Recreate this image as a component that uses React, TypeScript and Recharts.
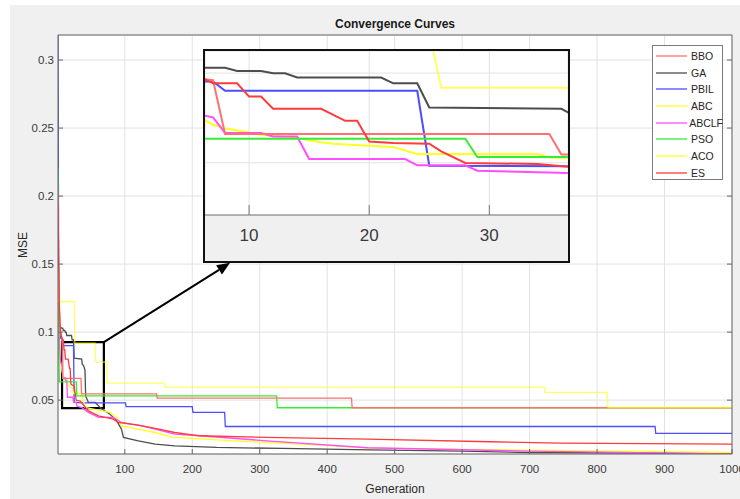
import React from 'react';
import { LineChart, Line, XAxis, YAxis, CartesianGrid, ReferenceArea, ReferenceLine } from 'recharts';

type Pt = [number, number];

// ---- data: [generation, MSE] breakpoints ----
const BBO: Pt[] = [[1,0.205],[2,0.15],[3,0.118],[4,0.104],[5,0.099],[6,0.0968],[7,0.096],[8,0.066],[35,0.066],[36,0.0546],[147,0.0546],[148,0.0515],[436,0.0515],[437,0.0444],[1000,0.0444]];
const GA: Pt[] = [[1,0.112],[3,0.105],[6,0.103],[8,0.103],[9,0.1012],[11,0.1012],[12,0.0999],[13,0.0999],[14,0.0975],[21,0.0975],[22,0.0943],[24,0.0943],[25,0.0808],[36,0.0801],[37,0.0764],[39,0.0752],[41,0.072],[42,0.053],[46,0.0483],[56,0.0483],[66,0.0434],[78,0.0397],[88,0.0348],[95,0.0287],[98,0.0226],[120,0.0201],[145,0.0176],[174,0.0164],[236,0.0152],[334,0.0145],[463,0.0135],[600,0.0125],[700,0.0115],[1000,0.0108]];
const PBIL: Pt[] = [[1,0.3184],[2,0.14],[3,0.108],[4,0.099],[5,0.0955],[7,0.0953],[8,0.0901],[24,0.0901],[25,0.0484],[37,0.048],[101,0.048],[102,0.0452],[200,0.0452],[201,0.041],[248,0.041],[249,0.0306],[886,0.0306],[887,0.0255],[1000,0.0255]];
const ABC: Pt[] = [[1,0.15],[2,0.11],[3,0.09],[4,0.08],[5,0.077],[6,0.0748],[7,0.0712],[8,0.0693],[11,0.0656],[14,0.0638],[16,0.0615],[17,0.0606],[20,0.0595],[22,0.0588],[24,0.0549],[34,0.0549],[35,0.053],[37,0.0527],[41,0.0446],[66,0.0421],[78,0.041],[88,0.0373],[95,0.0311],[120,0.0287],[145,0.0262],[170,0.0228],[261,0.0201],[408,0.0164],[463,0.0147],[1000,0.0115]];
const ABCLF: Pt[] = [[1,0.18],[2,0.125],[3,0.095],[4,0.083],[5,0.078],[7,0.0753],[8,0.0666],[11,0.0666],[12,0.0647],[14,0.0647],[15,0.0521],[23,0.0521],[24,0.0486],[28,0.0486],[29,0.0456],[37,0.0443],[46,0.041],[61,0.0373],[83,0.0373],[95,0.0336],[125,0.0311],[145,0.0287],[174,0.025],[211,0.0238],[310,0.0201],[460,0.015],[700,0.0125],[1000,0.0105]];
const PSO: Pt[] = [[1,0.221],[2,0.09],[3,0.0634],[28,0.0634],[29,0.0532],[325,0.0532],[326,0.0444],[1000,0.0444]];
const ACO: Pt[] = [[1,0.152],[2,0.1225],[25,0.1225],[26,0.0918],[56,0.0918],[57,0.078],[73,0.078],[74,0.0625],[158,0.0625],[159,0.0596],[722,0.0596],[723,0.0557],[815,0.0557],[816,0.0446],[1000,0.0446]];
const ES: Pt[] = [[1,0.195],[2,0.15],[3,0.12],[4,0.106],[5,0.1],[6,0.0975],[7,0.0943],[9,0.0943],[10,0.0869],[11,0.0869],[12,0.0801],[16,0.0801],[18,0.0734],[19,0.0734],[20,0.0619],[22,0.061],[25,0.0606],[26,0.0564],[28,0.0499],[34,0.0493],[37,0.0475],[46,0.0421],[61,0.0385],[83,0.036],[90,0.0336],[120,0.0316],[145,0.0292],[174,0.0262],[211,0.0238],[310,0.0226],[460,0.0213],[640,0.0194],[745,0.0184],[1000,0.0176]];

const SERIES_NAMES = ['BBO', 'GA', 'PBIL', 'ABC', 'ABCLF', 'PSO', 'ACO', 'ES'];
const SERIES_DATA: Pt[][] = [BBO, GA, PBIL, ABC, ABCLF, PSO, ACO, ES];

const X_TICKS = [100, 200, 300, 400, 500, 600, 700, 800, 900, 1000];
const Y_TICKS = [0.05, 0.1, 0.15, 0.2, 0.25, 0.3];
const X_DOMAIN: [number, number] = [1, 1000];
const Y_DOMAIN: [number, number] = [0.0104, 0.3184];

const INSET_X_TICKS = [10, 20, 30];
const INSET_Y_TICKS = [0.05, 0.1];
const INSET_X_DOMAIN: [number, number] = [6.33, 36.55];
const INSET_Y_DOMAIN: [number, number] = [0.0209, 0.1123];

// zoom box (data coords) and arrow tip (data coords)
const ZOOM_BOX = { x1: 7, x2: 69, y1: 0.0441, y2: 0.0926 };
const ARROW_TIP = { x: 256, y: 0.1509 };

// ---- styles ----
const COLORS = ['#ff7070', '#4d4d4d', '#4d4dff', '#ffff22', '#ff4dff', '#33ee33', '#ffff22', '#ff3b3b'];
const OPACITY = [1, 1, 1, 1, 1, 1, 0.7, 1];
const DRAW_ORDER = [1, 2, 3, 4, 5, 0, 6, 7];
const FONT = '"Liberation Sans", Arial, Helvetica, sans-serif';

const toRows = (pts: Pt[]) => pts.map(([g, v]) => ({ g, v }));
const ROWS = SERIES_DATA.map(toRows);

const Arrow = (props: any) => {
  const { x1, y1, x2, y2 } = props;
  const dx = x2 - x1, dy = y2 - y1;
  const len = Math.sqrt(dx * dx + dy * dy) || 1;
  const ux = dx / len, uy = dy / len;
  const hl = 13, hw = 5.5;
  const bx = x2 - ux * hl, by = y2 - uy * hl;
  const px = -uy, py = ux;
  return (
    <g>
      <line x1={x1} y1={y1} x2={bx} y2={by} stroke="#000" strokeWidth={2} />
      <polygon points={`${x2},${y2} ${bx + px * hw},${by + py * hw} ${bx - px * hw},${by - py * hw}`} fill="#000" />
    </g>
  );
};

const blankFmt = () => '';

const renderLines = (width: number) =>
  DRAW_ORDER.map((i) => (
    <Line key={SERIES_NAMES[i]} data={ROWS[i]} dataKey="v" name={SERIES_NAMES[i]} type="linear"
      stroke={COLORS[i]} strokeOpacity={OPACITY[i]} strokeWidth={width} dot={false} activeDot={false} isAnimationActive={false} />
  ));

export default function App() {
  return (
    <div style={{ position: 'absolute', left: 0, top: 0, width: 740, height: 499, background: '#ffffff', overflow: 'hidden', fontFamily: FONT }}>
      <div style={{ position: 'absolute', left: 10, top: 5, width: 730, height: 494, background: '#f0f0f0' }} />
      <div style={{ position: 'absolute', left: 0, top: 0 }}>
        <LineChart width={740} height={499} margin={{ top: 34, right: 7, bottom: 0, left: 10 }}>
          <CartesianGrid stroke="#e2e2e2" fill="#ffffff" />
          <XAxis type="number" dataKey="g" domain={X_DOMAIN} ticks={X_TICKS} interval={0} allowDataOverflow
            height={45} tickSize={-5} tickMargin={16} stroke="#666" tick={{ fontSize: 11.5, fill: '#3a3a3a', fontFamily: FONT }} />
          <YAxis type="number" domain={Y_DOMAIN} ticks={Y_TICKS} interval={0} allowDataOverflow
            width={48} tickSize={-5} tickMargin={9} stroke="#666" tick={{ fontSize: 11.5, fill: '#3a3a3a', fontFamily: FONT }} />
          <XAxis xAxisId="top" orientation="top" type="number" domain={X_DOMAIN} ticks={X_TICKS} interval={0} allowDataOverflow
            height={1} tickSize={-5} tickFormatter={blankFmt} stroke="#666" />
          <YAxis yAxisId="right" orientation="right" type="number" domain={Y_DOMAIN} ticks={Y_TICKS} interval={0} allowDataOverflow
            width={1} tickSize={-5} tickFormatter={blankFmt} stroke="#666" />
          {renderLines(1.3)}
          <ReferenceArea x1={ZOOM_BOX.x1} x2={ZOOM_BOX.x2} y1={ZOOM_BOX.y1} y2={ZOOM_BOX.y2}
            fill="none" fillOpacity={0} stroke="#000" strokeWidth={2.2} ifOverflow="visible" />
          <ReferenceLine segment={[{ x: ZOOM_BOX.x2, y: ZOOM_BOX.y2 }, { x: ARROW_TIP.x, y: ARROW_TIP.y }]}
            shape={Arrow} ifOverflow="visible" />
        </LineChart>
      </div>

      {/* title and axis labels */}
      <div style={{ position: 'absolute', left: 395, top: 24, transform: 'translate(-50%, -50%)', fontWeight: 'bold', fontSize: 12, color: '#1a1a1a', whiteSpace: 'nowrap' }}>Convergence Curves</div>
      <div style={{ position: 'absolute', left: 395, top: 489, transform: 'translate(-50%, -50%)', fontSize: 12, color: '#2a2a2a', whiteSpace: 'nowrap' }}>Generation</div>
      <div style={{ position: 'absolute', left: 23, top: 245, transform: 'translate(-50%, -50%) rotate(-90deg)', fontSize: 12, color: '#2a2a2a', whiteSpace: 'nowrap' }}>MSE</div>

      {/* legend */}
      <div style={{ position: 'absolute', left: 652, top: 45, width: 71, height: 135, boxSizing: 'border-box', border: '1px solid #7a7a7a', background: '#ffffff' }}>
        {SERIES_NAMES.map((n, i) => (
          <div key={n} style={{ position: 'absolute', left: 0, top: 1.5 + i * 16.7, height: 16.7, width: 70, display: 'flex', alignItems: 'center' }}>
            <svg width={36} height={6} style={{ marginLeft: 3 }}>
              <line x1={0} y1={3} x2={31} y2={3} stroke={COLORS[i]} strokeWidth={1.3} />
            </svg>
            <span style={{ fontSize: 10.5, color: '#262626', marginLeft: -1 }}>{n}</span>
          </div>
        ))}
      </div>

      {/* zoomed inset */}
      <div style={{ position: 'absolute', left: 203, top: 49, width: 367, height: 214, boxSizing: 'border-box', border: '2px solid #111', background: '#f0f0f0' }}>
        <LineChart width={363} height={210} margin={{ top: 0, right: 0, bottom: 0, left: 0 }}>
          <CartesianGrid stroke="#e2e2e2" fill="#ffffff" />
          <XAxis type="number" dataKey="g" domain={INSET_X_DOMAIN} ticks={INSET_X_TICKS} interval={0} allowDataOverflow
            height={46} tickSize={-10} tickMargin={24} stroke="#777" tick={{ fontSize: 17, fill: '#3a3a3a', fontFamily: FONT }} />
          <YAxis hide type="number" domain={INSET_Y_DOMAIN} ticks={INSET_Y_TICKS} allowDataOverflow />
          {renderLines(2)}
        </LineChart>
      </div>
    </div>
  );
}
